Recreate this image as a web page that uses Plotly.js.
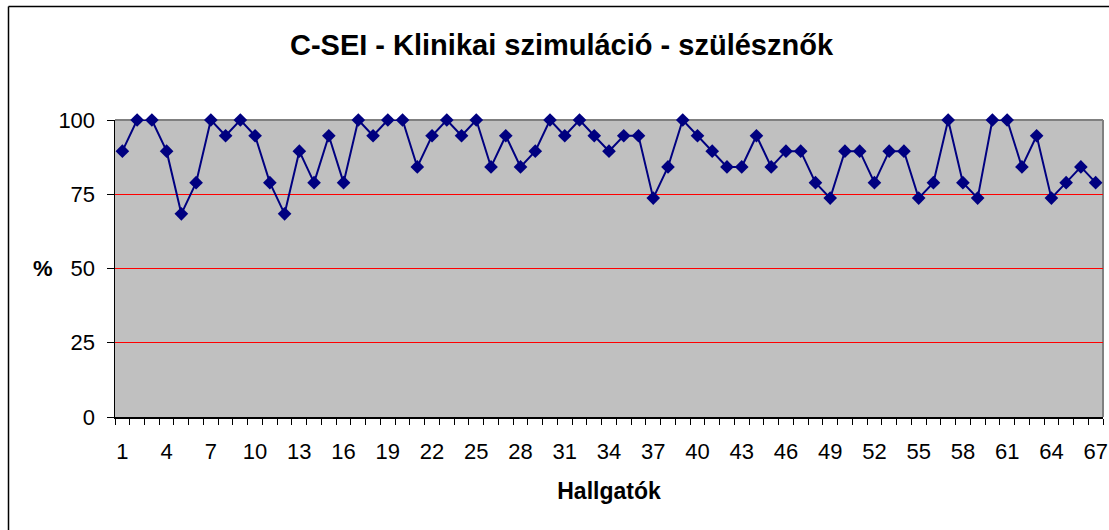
<!DOCTYPE html>
<html>
<head>
<meta charset="utf-8">
<script src="https://cdn.plot.ly/plotly-3.0.1.min.js"></script>
<style>
  html, body { margin: 0; padding: 0; background: #ffffff; }
  #chart { width: 1109px; height: 530px; }
</style>
</head>
<body>
<div id="chart"></div>
<script>
// Students (Hallgatók) 1..67
const students = [];
for (let i = 1; i <= 67; i++) students.push(i);

// Scores in % (values are multiples of 1/19)
const scores = [
  89.5, 100, 100, 89.5, 68.4, 78.9, 100, 94.7, 100, 94.7,
  78.9, 68.4, 89.5, 78.9, 94.7, 78.9, 100, 94.7, 100, 100,
  84.2, 94.7, 100, 94.7, 100, 84.2, 94.7, 84.2, 89.5, 100,
  94.7, 100, 94.7, 89.5, 94.7, 94.7, 73.7, 84.2, 100, 94.7,
  89.5, 84.2, 84.2, 94.7, 84.2, 89.5, 89.5, 78.9, 73.7, 89.5,
  89.5, 78.9, 89.5, 89.5, 73.7, 78.9, 100, 78.9, 73.7, 100,
  100, 84.2, 94.7, 73.7, 78.9, 84.2, 78.9
];

// Tick labels shown on the x axis
const xTickVals = [1, 4, 7, 10, 13, 16, 19, 22, 25, 28, 31, 34, 37, 40, 43, 46, 49, 52, 55, 58, 61, 64, 67];
const xTickText = xTickVals.map(String);
const yTickVals = [0, 25, 50, 75, 100];

const titleText = 'C-SEI - Klinikai szimuláció - szülésznők';
const xTitle = 'Hallgatók';
const yTitle = '%';

const FONT = 'Liberation Sans, Arial, Helvetica, sans-serif';

const trace = {
  x: students,
  y: scores,
  type: 'scatter',
  mode: 'lines+markers',
  cliponaxis: false,
  line: { color: '#000080', width: 2 },
  marker: { symbol: 'diamond', size: 10.5, color: '#000080' },
  hoverinfo: 'x+y',
  showlegend: false
};

const layout = {
  width: 1109,
  height: 530,
  margin: { l: 115, r: 6, t: 120, b: 113, pad: 0 },
  paper_bgcolor: '#ffffff',
  plot_bgcolor: '#C0C0C0',
  font: { family: FONT, color: '#000000', size: 22 },
  title: {
    text: titleText,
    font: { family: FONT, size: 29, color: '#000000', weight: 'bold' },
    xref: 'container', x: 0.5063,
    yref: 'container', y: 1 - 45 / 530, yanchor: 'middle', xanchor: 'center'
  },
  xaxis: {
    range: [0.5, 67.5],
    tickmode: 'array',
    tickvals: xTickVals,
    ticktext: xTickText,
    ticks: '',
    ticklabelstandoff: 14,
    tickfont: { family: FONT, size: 22, color: '#000000' },
    showgrid: false,
    zeroline: false,
    showline: true,
    linecolor: '#000000',
    linewidth: 1.5,
    minor: {
      tick0: 0.5, dtick: 1, ticks: 'outside', ticklen: 6,
      tickcolor: '#000000', tickwidth: 1, showgrid: false
    },
    title: {
      text: xTitle,
      font: { family: FONT, size: 23, color: '#000000', weight: 'bold' },
      standoff: 20
    },
    fixedrange: true
  },
  yaxis: {
    range: [0, 100],
    tickmode: 'array',
    tickvals: yTickVals,
    ticks: 'outside',
    ticklen: 7,
    tickcolor: '#000000',
    ticklabelstandoff: 7,
    tickfont: { family: FONT, size: 22, color: '#000000' },
    showgrid: true,
    gridcolor: '#FF0000',
    gridwidth: 1,
    zeroline: false,
    showline: true,
    linecolor: '#000000',
    linewidth: 1.5,
    fixedrange: true
  },
  shapes: [
    // plot-area border on top and right (grey)
    { type: 'line', xref: 'paper', yref: 'paper', x0: 0, x1: 1, y0: 1, y1: 1,
      line: { color: '#808080', width: 2 }, layer: 'below' },
    { type: 'line', xref: 'paper', yref: 'paper', x0: 1, x1: 1, y0: 0, y1: 1,
      line: { color: '#808080', width: 2 }, layer: 'below' },
    // outer chart frame (left and top edges visible)
    { type: 'line', xref: 'paper', yref: 'paper',
      x0: (8.5 - 115) / 988, x1: 1.2, y0: (417.3 - 6.5) / 297.3, y1: (417.3 - 6.5) / 297.3,
      line: { color: '#000000', width: 1.5 }, layer: 'above' },
    { type: 'line', xref: 'paper', yref: 'paper',
      x0: (8.5 - 115) / 988, x1: (8.5 - 115) / 988, y0: -0.6, y1: (417.3 - 6.5) / 297.3,
      line: { color: '#000000', width: 1.5 }, layer: 'above' }
  ],
  annotations: [
    { text: yTitle, xref: 'paper', yref: 'paper',
      x: (43 - 115) / 988, y: 0.5, xanchor: 'center', yanchor: 'middle',
      showarrow: false,
      font: { family: FONT, size: 22, color: '#000000', weight: 'bold' } }
  ]
};

Plotly.newPlot('chart', [trace], layout, { displayModeBar: false, staticPlot: true });
</script>
</body>
</html>
